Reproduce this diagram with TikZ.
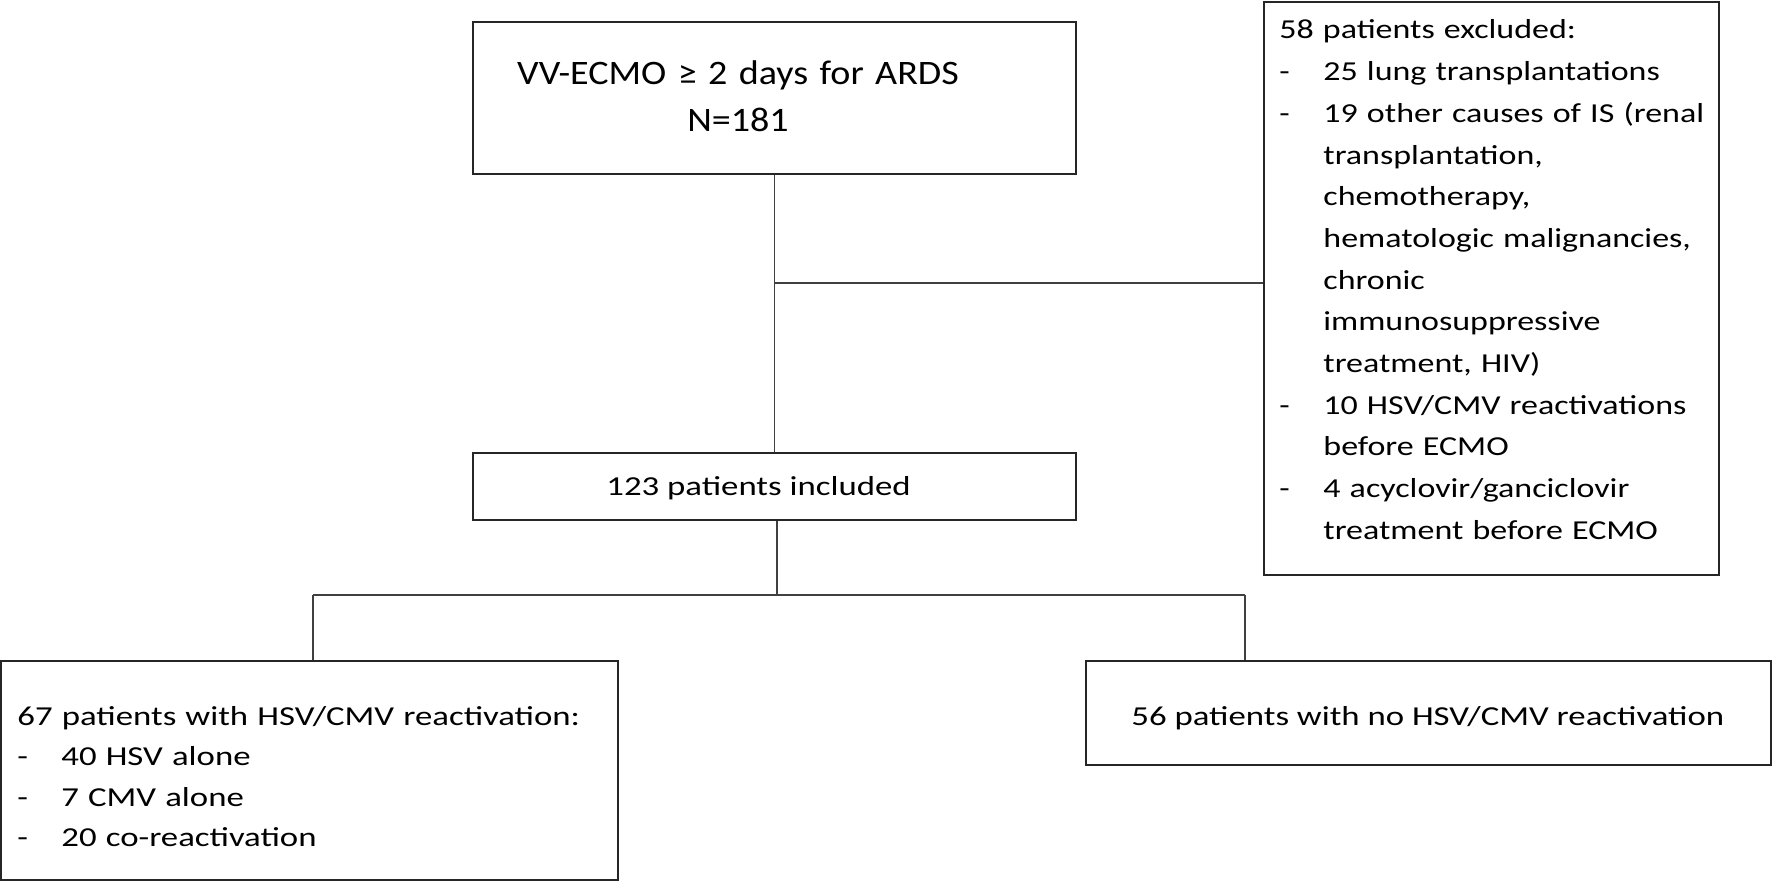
\documentclass[tikz,border=0pt]{standalone}
\usepackage{fontspec}
\setmainfont{Carlito}
\newfontfamily\lowfont{Carlito}[FakeStretch=1.24]
\newfontfamily\botfont{Carlito}[FakeStretch=1.27]
\newfontfamily\topfont{Carlito}[FakeStretch=1.11]
\newcommand{\exdash}{\makebox[22pt][l]{-}}
\newcommand{\exgap}{\hspace*{22pt}}

\begin{document}
\begin{tikzpicture}[x=0.5pt, y=-0.5pt,
    flowbox/.style={draw=black!85, line width=1pt, inner sep=0pt},
    link/.style={draw=black!75, line width=0.6pt},
    lowtext/.style={font=\lowfont\fontsize{13.7}{20.3}\selectfont, inner sep=0pt, anchor=base west, align=left},
    bottext/.style={lowtext, font=\botfont\fontsize{13.7}{20.3}\selectfont}]
                \useasboundingbox (0,0) rectangle (1773,882);

                % Boxes
                \node[flowbox, minimum width=301.5pt, minimum height=76pt] (ecmo) at (774.5,98) {};
                \node[flowbox, minimum width=227.5pt, minimum height=286.5pt] (excl) at (1491.5,288.5) {};
                \node[flowbox, minimum width=301.5pt, minimum height=33.5pt] (incl) at (774.5,486.5) {};
                \node[flowbox, minimum width=308.5pt, minimum height=109.5pt] (reac) at (309.5,770.5) {};
                \node[flowbox, minimum width=342.5pt, minimum height=52pt] (noreac) at (1428.5,713) {};

                % Box texts
                \node[font=\topfont\fontsize{17.15}{23.3}\selectfont, inner sep=0pt, text width=260pt, align=center, anchor=base] (ecmo-txt) at (738,85) {VV-ECMO ≥ 2 days for ARDS\\N=181};
                \node[lowtext, font=\lowfont\fontsize{13.7}{20.85}\selectfont, text width=215pt] (excl-txt) at (1279,39) {58 patients excluded:\\
                    \exdash 25 lung transplantations\\
                    \exdash 19 other causes of IS (renal\\
                    \exgap transplantation,\\
                    \exgap chemotherapy,\\
                    \exgap hematologic malignancies,\\
                    \exgap chronic\\
                    \exgap immunosuppressive\\
                    \exgap treatment, HIV)\\
                    \exdash 10 HSV/CMV reactivations\\
                    \exgap before ECMO\\
                    \exdash 4 acyclovir/ganciclovir\\
                    \exgap treatment before ECMO};
                \node[bottext] (incl-txt) at (606,495) {123 patients included};
                \node[bottext, text width=295pt] (reac-txt) at (17,725) {67 patients with HSV/CMV reactivation:\\
                    \exdash 40 HSV alone\\
                    \exdash 7 CMV alone\\
                    \exdash 20 co-reactivation};
                \node[bottext] (noreac-txt) at (1131,725) {56 patients with no HSV/CMV reactivation};

                % Connectors
                \coordinate (split) at (775,283);
                \coordinate (fork) at (777,595);
                \coordinate (forkL) at (313,595);
                \coordinate (forkR) at (1245,595);
                \draw[link] (ecmo.south) -- (incl.north);
                \draw[link] (split) -- (split -| excl.west);
                \draw[link] (incl.south -| fork) -- (fork);
                \draw[link] (forkL) -- (forkR);
                \draw[link] (forkL) -- (forkL |- reac.north);
                \draw[link] (forkR) -- (forkR |- noreac.north);
            \end{tikzpicture}
\end{document}
